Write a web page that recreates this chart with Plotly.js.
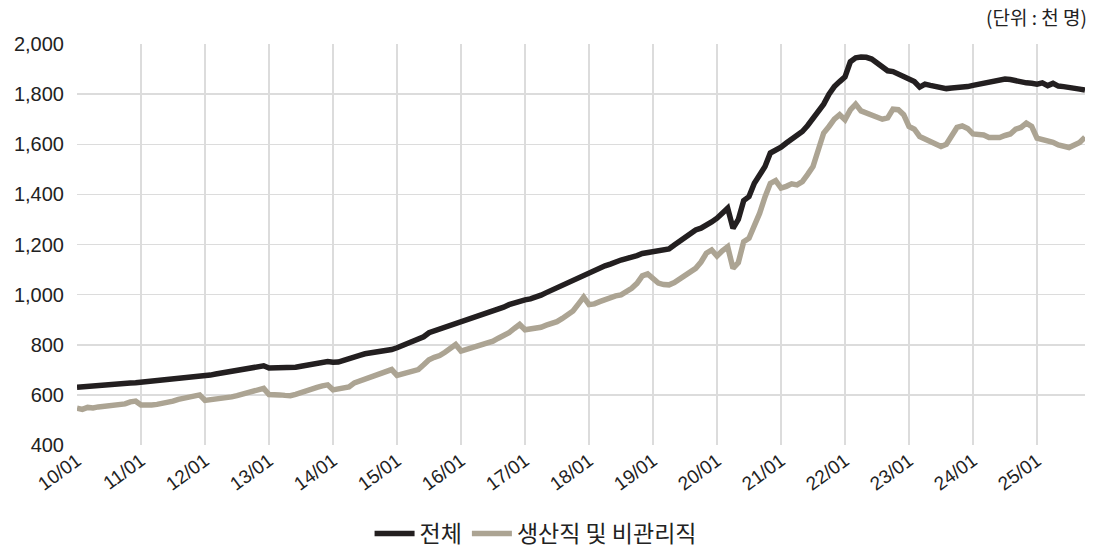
<!DOCTYPE html>
<html>
<head>
<meta charset="utf-8">
<script src="https://cdn.plot.ly/plotly-3.0.1.min.js"></script>
<style>html,body{margin:0;padding:0;background:#fff;}#chart{width:1093px;height:555px;}</style>
</head>
<body>
<div id="chart"></div>
<script>
// Monthly data 2010-01 .. 2025-10 (천 명)
const total = [
  630, 632, 634, 636, 638, 642, 640, 641, 643, 645, 647, 648,
  650, 651, 652, 654, 656, 659, 662, 664, 666, 668, 670, 672,
  676, 679, 683, 687, 690, 694, 697, 700, 703, 707, 711, 716,
  707, 707, 708, 708, 707, 710, 714, 718, 722, 726, 730, 733,
  730, 731, 738, 746, 752, 758, 764, 767, 769, 771, 776, 781,
  788, 796, 808, 816, 822, 832, 848, 855, 862, 870, 878, 886,
  893, 900, 908, 916, 922, 928, 935, 942, 950, 960, 968, 974,
  979, 983, 989, 998, 1008, 1018, 1026, 1036, 1048, 1060, 1070, 1080,
  1090, 1098, 1105, 1115, 1122, 1132, 1138, 1144, 1148, 1156, 1164, 1168,
  1172, 1176, 1180, 1182, 1198, 1212, 1228, 1245, 1258, 1265, 1275, 1290,
  1305, 1325, 1345, 1265, 1300, 1375, 1391, 1444, 1480, 1511, 1565, 1575,
  1588, 1605, 1620, 1635, 1651, 1675, 1705, 1731, 1760, 1800, 1830, 1850,
  1869, 1929, 1945, 1948, 1947, 1940, 1925, 1905, 1893, 1890, 1880, 1870,
  1860, 1850, 1828, 1840, 1835, 1830, 1824, 1822, 1824, 1825, 1826, 1830,
  1835, 1840, 1845, 1850, 1853, 1856, 1860, 1858, 1852, 1847, 1845, 1843,
  1840, 1845, 1834, 1843, 1832, 1830, 1828, 1826, 1820, 1816
];
const production = [
  547, 542, 550, 548, 552, 554, 554, 556, 558, 564, 572, 575,
  560, 558, 560, 562, 565, 568, 575, 582, 587, 592, 597, 600,
  578, 580, 583, 585, 588, 592, 597, 603, 608, 614, 620, 626,
  601, 598, 600, 598, 597, 602, 610, 618, 624, 630, 636, 640,
  620, 624, 628, 632, 648, 656, 665, 670, 678, 685, 695, 701,
  678, 685, 691, 695, 701, 720, 740, 750, 757, 770, 785, 801,
  775, 782, 787, 793, 800, 806, 814, 826, 836, 848, 865, 881,
  860, 862, 864, 870, 878, 884, 892, 905, 918, 935, 962, 990,
  960, 963, 972, 980, 990, 995, 999, 1010, 1025, 1045, 1075, 1083,
  1066, 1046, 1040, 1039, 1048, 1062, 1075, 1090, 1105, 1130, 1165, 1178,
  1154, 1175, 1191, 1105, 1128, 1211, 1225, 1275, 1325, 1390, 1444, 1455,
  1425, 1432, 1442, 1438, 1451, 1480, 1511, 1578, 1645, 1671, 1700, 1718,
  1698, 1737, 1760, 1733, 1725, 1720, 1710, 1700, 1705, 1740, 1738, 1718,
  1671, 1660, 1631, 1622, 1610, 1600, 1591, 1600, 1630, 1667, 1673, 1663,
  1641, 1638, 1637, 1627, 1627, 1627, 1635, 1641, 1660, 1667, 1684, 1671,
  1624, 1620, 1617, 1608, 1597, 1592, 1587, 1597, 1607, 1628
];
const tickLabels = ['10/01','11/01','12/01','13/01','14/01','15/01','16/01','17/01',
  '18/01','19/01','20/01','21/01','22/01','23/01','24/01','25/01'];
const seriesNames = ['전체', '생산직 및 비관리직'];

// category labels yy/mm for each month
const months = [];
for (let y = 10; y <= 25; y++) {
  for (let m = 1; m <= 12; m++) {
    if (months.length < total.length) months.push(String(y).padStart(2,'0') + '/' + String(m).padStart(2,'0'));
  }
}

const font = "'Liberation Sans', 'Noto Sans CJK KR', Arial, sans-serif";
const traces = [
  {x: months, y: total, name: seriesNames[0], type: 'scatter', mode: 'lines',
   line: {color: '#231f20', width: 5.5}},
  {x: months, y: production, name: seriesNames[1], type: 'scatter', mode: 'lines',
   line: {color: '#aca493', width: 5.5}}
];
const layout = {
  width: 1093, height: 555,
  margin: {l: 77, r: 8, t: 44, b: 110},
  paper_bgcolor: '#fff', plot_bgcolor: '#fff',
  font: {family: font, color: '#222', size: 16},
  showlegend: true,
  legend: {orientation: 'h', xref: 'container', yref: 'container', x: 0.49, xanchor: 'center',
           y: 0, yanchor: 'bottom', font: {size: 23, family: "'Noto Sans CJK KR', sans-serif", color: '#222'},
           itemwidth: 40, tracegroupgap: 0},
  xaxis: {type: 'category', range: [0, months.length - 1], tickmode: 'array', tickvals: tickLabels, ticktext: tickLabels,
          tickangle: -36, showgrid: true, gridcolor: '#dcdcdc', gridwidth: 1.5, zeroline: false,
          showline: false, ticks: '', tickfont: {size: 19, color: '#222'}, automargin: false},
  yaxis: {range: [400, 2000], dtick: 200, tickformat: ',', showgrid: true, gridcolor: '#dcdcdc', gridwidth: 1.5,
          zeroline: false, showline: false, ticks: '', ticklabelstandoff: 12,
          tickfont: {size: 20, color: '#222'}, automargin: false},
  annotations: [{xref: 'paper', yref: 'paper', x: 1, y: 1, xanchor: 'right', yanchor: 'bottom', yshift: 12, xshift: 4,
                 text: '(단위 : 천 명)', showarrow: false,
                 font: {size: 19, color: '#222', family: "'Noto Sans CJK KR', sans-serif"}}]
};
Plotly.newPlot('chart', traces, layout, {staticPlot: true, displayModeBar: false});
</script>
</body>
</html>
